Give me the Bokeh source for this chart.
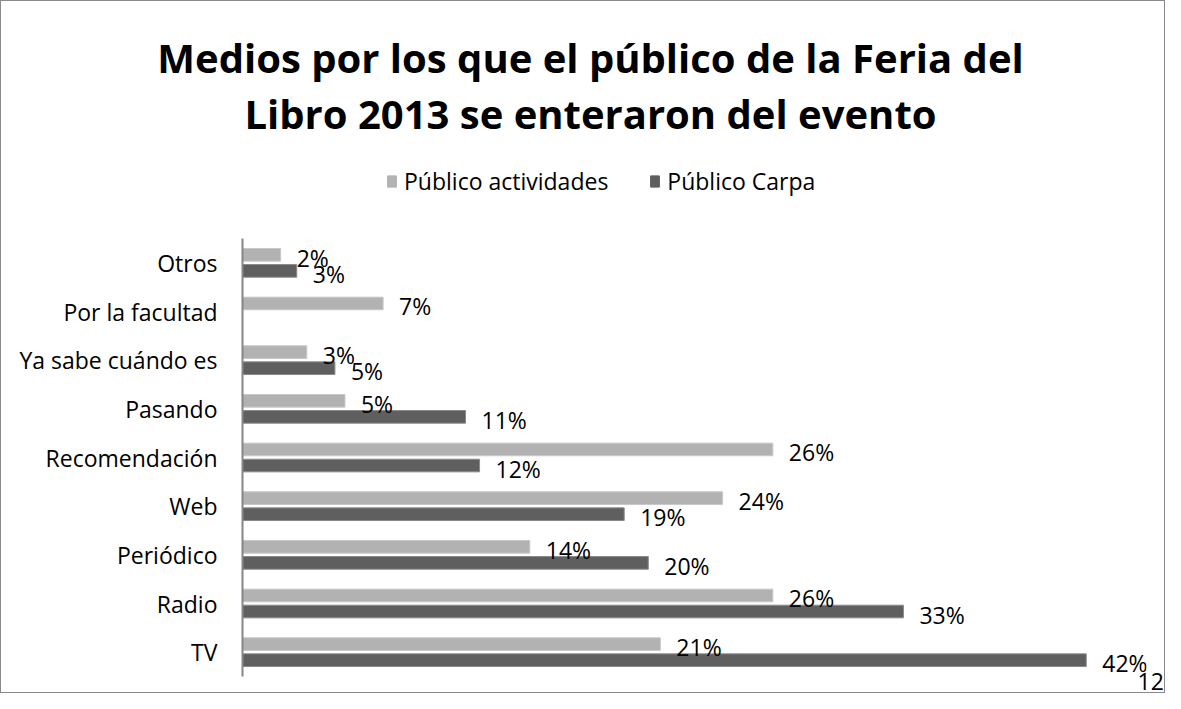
from bokeh.plotting import figure
from bokeh.layouts import column
from bokeh.models import (ColumnDataSource, FactorRange, Range1d, Legend, LegendItem,
                          Label)
from bokeh.transform import dodge
from bokeh.core.properties import value
from bokeh.embed import file_html
from bokeh.resources import INLINE

# ---- data (bottom to top), percentages ----
categories = ["TV", "Radio", "Periódico", "Web", "Recomendación", "Pasando",
              "Ya sabe cuándo es", "Por la facultad", "Otros"]
publico_actividades = [20.8, 26.4, 14.3, 23.9, 26.4, 5.1, 3.2, 7.0, 1.9]
publico_carpa = [42.0, 32.9, 20.2, 19.0, 11.8, 11.1, 4.6, float("nan"), 2.7]
series_names = ["Público actividades", "Público Carpa"]
title_lines = ["Medios por los que el público de la Feria del",
               "Libro 2013 se enteraron del evento"]
page_number = "12"


def lbl(v):
    return "" if v != v else f"{int(round(v))}%"


src = ColumnDataSource(dict(
    cat=categories,
    act=publico_actividades,
    carpa=publico_carpa,
    act_lbl=[lbl(v) for v in publico_actividades],
    carpa_lbl=[lbl(v) for v in publico_carpa],
))

FONT = "Open Sans"
LIGHT = "#B2B2B2"
DARK = "#5F5F5F"
BORDER = "#8a8a8a"
W = 1165
HEAD_H = 225
MAIN_H = 468

# ---------------- header: title + legend ----------------
head = figure(width=W, height=HEAD_H, x_range=Range1d(0, W), y_range=Range1d(HEAD_H, 0),
              x_axis_type=None, y_axis_type=None, output_backend="svg",
              toolbar_location=None, title=None)
head.frame_align = False
head.min_border_left = head.min_border_right = 0
head.min_border_top = head.min_border_bottom = 0
head.outline_line_color = None
head.background_fill_alpha = 0
head.border_fill_alpha = 0
head.xgrid.visible = False
head.ygrid.visible = False

for txt, yb in zip(title_lines, [57, 113]):
    head.add_layout(Label(x=590, y=yb, text=txt, text_align="center",
                          text_baseline="alphabetic", text_font=FONT,
                          text_font_style="bold", text_font_size="40px",
                          text_color="black"))

nan = float("nan")
k1 = head.hbar(y=[nan], right=[nan], left=0, height=1, fill_color=LIGHT, line_color=LIGHT)
k2 = head.hbar(y=[nan], right=[nan], left=0, height=1, fill_color=DARK, line_color=DARK)
legend = Legend(items=[LegendItem(label=series_names[0], renderers=[k1]),
                       LegendItem(label=series_names[1], renderers=[k2])],
                orientation="horizontal", location=(386, 28),
                label_text_font=FONT, label_text_font_size="23px",
                label_text_color="black", label_height=26,
                glyph_width=11, glyph_height=14, label_standoff=7, spacing=41,
                padding=0, margin=0, border_line_color=None,
                background_fill_alpha=0)
head.add_layout(legend, "center")
head.styles = {"box-shadow": f"inset 1px 0 0 {BORDER}, inset -1px 0 0 {BORDER}, "
                             f"inset 0 1px 0 {BORDER}"}

# ---------------- main bar chart ----------------
main = figure(width=W, height=MAIN_H, y_range=FactorRange(*categories),
              x_range=Range1d(0, 45), output_backend="svg", toolbar_location=None,
              title=None)
main.frame_align = False
main.min_border_left = 242
main.min_border_right = 19
main.min_border_bottom = 13
main.min_border_top = 13
main.outline_line_color = None
main.background_fill_alpha = 0
main.border_fill_alpha = 0
main.xgrid.visible = False
main.ygrid.visible = False
main.xaxis.visible = False

ya = main.yaxis[0]
ya.axis_line_color = "#868686"
ya.axis_line_width = 2
ya.major_tick_line_color = None
ya.minor_tick_line_color = None
ya.major_tick_out = 0
ya.major_label_standoff = 25
ya.major_label_text_font = FONT
ya.major_label_text_font_size = "23px"
ya.major_label_text_color = "black"

off = 0.165
h = 0.26
r1 = main.hbar(y=dodge("cat", off, range=main.y_range), right="act", left=0, height=h,
               source=src, fill_color=LIGHT, line_color="#C8C8C8", line_width=1)
r2 = main.hbar(y=dodge("cat", -off, range=main.y_range), right="carpa", left=0, height=h,
               source=src, fill_color=DARK, line_color="#8A8A8A", line_width=1)

for col_v, col_l, dy in [("act", "act_lbl", off), ("carpa", "carpa_lbl", -off)]:
    main.text(x=col_v, y=dodge("cat", dy, range=main.y_range), text=col_l, source=src,
              x_offset=16, y_offset=3, text_baseline="middle", text_align="left",
              text_font=value(FONT), text_font_size="23px", text_color="black")

main.add_layout(Label(x=895, y=4, x_units="screen", y_units="screen",
                      text=page_number, text_font=FONT, text_font_size="23px",
                      text_color="black"), "below")
main.styles = {"box-shadow": f"inset 1px 0 0 {BORDER}, inset -1px 0 0 {BORDER}, "
                             f"inset 0 -1px 0 {BORDER}"}

p = column(head, main, spacing=0)

open("out.html", "w").write(file_html(p, INLINE))
